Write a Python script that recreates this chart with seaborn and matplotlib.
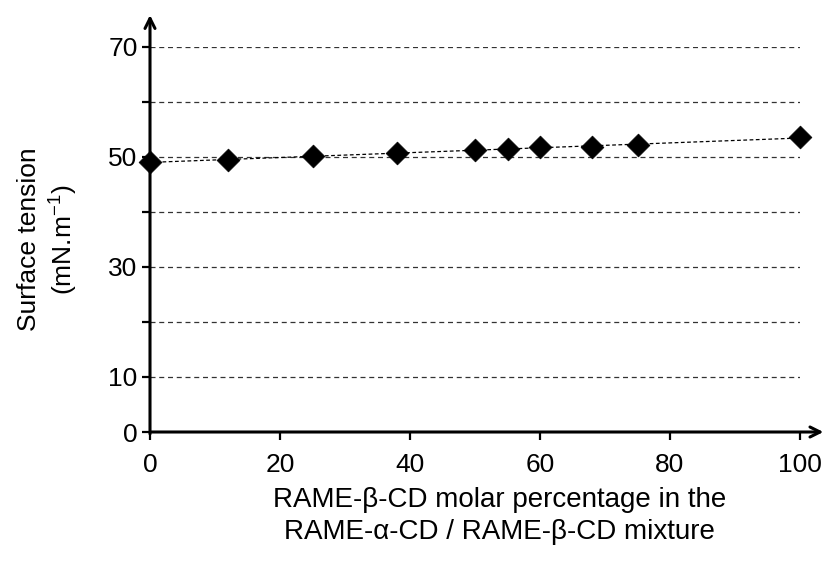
import numpy as np
import pandas as pd
import matplotlib
matplotlib.use("Agg")
import matplotlib.pyplot as plt
import seaborn as sns

# Data
beta_pct = [0, 12, 25, 38, 50, 55, 60, 68, 75, 100]
surface_tension = [49.1, 49.5, 50.1, 50.8, 51.2, 51.4, 51.8, 51.9, 52.2, 53.6]
y_ticks = [0, 10, 20, 30, 40, 50, 60, 70]
y_tick_labels = ["0", "10", "", "30", "", "50", "", "70"]
x_ticks = [0, 20, 40, 60, 80, 100]
grid_levels = [10, 20, 30, 40, 50, 60, 70]

df = pd.DataFrame({"x": beta_pct, "y": surface_tension})

sns.set_style("white")
plt.rcParams["font.family"] = ["Liberation Sans", "DejaVu Sans"]
plt.rcParams["mathtext.fontset"] = "custom"
plt.rcParams["mathtext.rm"] = "Liberation Sans"
plt.rcParams["mathtext.it"] = "Liberation Sans"
plt.rcParams["text.color"] = "black"
plt.rcParams["axes.labelcolor"] = "black"
plt.rcParams["xtick.color"] = "black"
plt.rcParams["ytick.color"] = "black"

FS = 19

fig = plt.figure(figsize=(8.26, 5.65), dpi=100)
ax = fig.add_axes([150 / 826, (565 - 432) / 565, 650 / 826, 385 / 565])

# grid lines (dashed, only across data range)
ax.hlines(grid_levels, 0, 100, colors="#333333", linestyles=(0, (4, 3)), linewidth=0.9, zorder=1)

# trend line
sns.regplot(data=df, x="x", y="y", scatter=False, ci=None, ax=ax,
            line_kws=dict(color="black", linestyle=(0, (3, 2)), linewidth=0.9, zorder=2))

# markers
sns.scatterplot(data=df, x="x", y="y", marker="D", s=135, color="black",
                edgecolor="black", linewidth=0.5, ax=ax, zorder=3, clip_on=False)

ax.set_xlim(0, 100)
ax.set_ylim(0, 70)

for s in ax.spines.values():
    s.set_visible(False)

# axes with arrows
ax.annotate("", xy=(1.036, 0), xytext=(0, 0), xycoords="axes fraction",
            arrowprops=dict(arrowstyle="->", lw=2.2, color="black", mutation_scale=18,
                            shrinkA=0, shrinkB=0))
ax.annotate("", xy=(0, 1.083), xytext=(0, -0.005), xycoords="axes fraction",
            arrowprops=dict(arrowstyle="->", lw=2.2, color="black", mutation_scale=18,
                            shrinkA=0, shrinkB=0))

ax.set_xticks(x_ticks)
ax.set_xticklabels([str(v) for v in x_ticks])
ax.set_yticks(y_ticks)
ax.set_yticklabels(y_tick_labels)
ax.tick_params(axis="both", direction="out", length=6, width=1.6, color="black",
               labelcolor="black", labelsize=FS, bottom=True, left=True)
ax.tick_params(axis="x", pad=9)
ax.tick_params(axis="y", pad=3)

ax.set_xlabel("RAME-β-CD molar percentage in the\nRAME-α-CD / RAME-β-CD mixture",
              fontsize=20, linespacing=1.3, color="black")
ax.xaxis.set_label_coords(0.538, -0.142)
ax.set_ylabel("Surface tension\n(mN.m$^{\\mathregular{-1}}$)", fontsize=FS,
              linespacing=1.3, labelpad=20, color="black")

fig.savefig("out.png", dpi=100)
